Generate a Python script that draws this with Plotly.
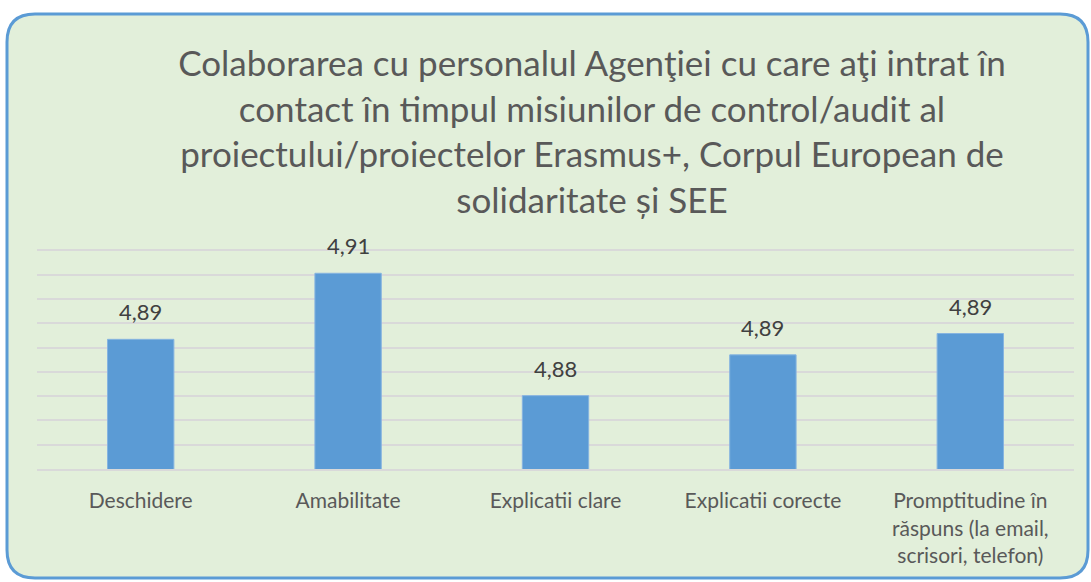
import plotly.graph_objects as go

categories = ["Deschidere", "Amabilitate", "Explicatii clare", "Explicatii corecte",
              "Promptitudine în<br>răspuns (la email,<br>scrisori, telefon)"]
scores = [4.8917, 4.9053, 4.8801, 4.8885, 4.8929]

title = ("Colaborarea cu personalul Agenţiei cu care aţi intrat în<br>"
         "contact în timpul misiunilor de control/audit al<br>"
         "proiectului/proiectelor Erasmus+, Corpul European de<br>"
         "solidaritate și SEE")

W, H = 1091, 582
L, R, T, B = 37, 17, 249, 113
pw, ph = W - L - R, H - T - B


def px(x):
    return (x - L) / pw


def py(y):
    return (H - B - y) / ph


# rounded frame in pixel units, converted to paper coords
x0, x1, y0, y1, r = 7, 1088, 14, 578, 28
path = (f"M {px(x0 + r)},{py(y0)} L {px(x1 - r)},{py(y0)} "
        f"Q {px(x1)},{py(y0)} {px(x1)},{py(y0 + r)} "
        f"L {px(x1)},{py(y1 - r)} Q {px(x1)},{py(y1)} {px(x1 - r)},{py(y1)} "
        f"L {px(x0 + r)},{py(y1)} Q {px(x0)},{py(y1)} {px(x0)},{py(y1 - r)} "
        f"L {px(x0)},{py(y0 + r)} Q {px(x0)},{py(y0)} {px(x0 + r)},{py(y0)} Z")

fig = go.Figure(go.Bar(
    x=categories, y=scores,
    marker=dict(color="#5b9bd5", line=dict(color="#86b4e0", width=1)),
    width=0.32, hoverinfo="skip",
))

for c, v in zip(categories, scores):
    fig.add_annotation(x=c, y=v, text=f"{v:.2f}".replace(".", ","), showarrow=False,
                       yanchor="bottom", yshift=12,
                       font=dict(family="Lato", size=22, color="#404040"))

fig.add_shape(type="path", path=path, xref="paper", yref="paper", layer="below",
              fillcolor="#e2efda", line=dict(color="#5b9bd5", width=3))

fig.update_layout(
    width=W, height=H,
    margin=dict(l=L, r=R, t=T, b=B),
    paper_bgcolor="white", plot_bgcolor="rgba(0,0,0,0)",
    separators=", ",
    showlegend=False,
    title=dict(text=title, x=592 / W, xanchor="center", xref="container",
               y=1 - 76 / H, yanchor="top", yref="container",
               font=dict(family="Lato", size=35, color="#595959")),
    font=dict(family="Lato"),
)
fig.update_xaxes(showline=True, linecolor="#d9d9d9", linewidth=2, ticks="",
                 ticklabelstandoff=12, tickfont=dict(size=21, color="#595959"))
fig.update_yaxes(range=[4.865, 4.9103], tick0=4.865, dtick=0.005, showticklabels=False,
                 showgrid=True, gridcolor="#d9d9d9", gridwidth=2, zeroline=False)

fig.write_html("out.html", config={"displayModeBar": False},
               post_script="document.body.style.margin = '0';")
